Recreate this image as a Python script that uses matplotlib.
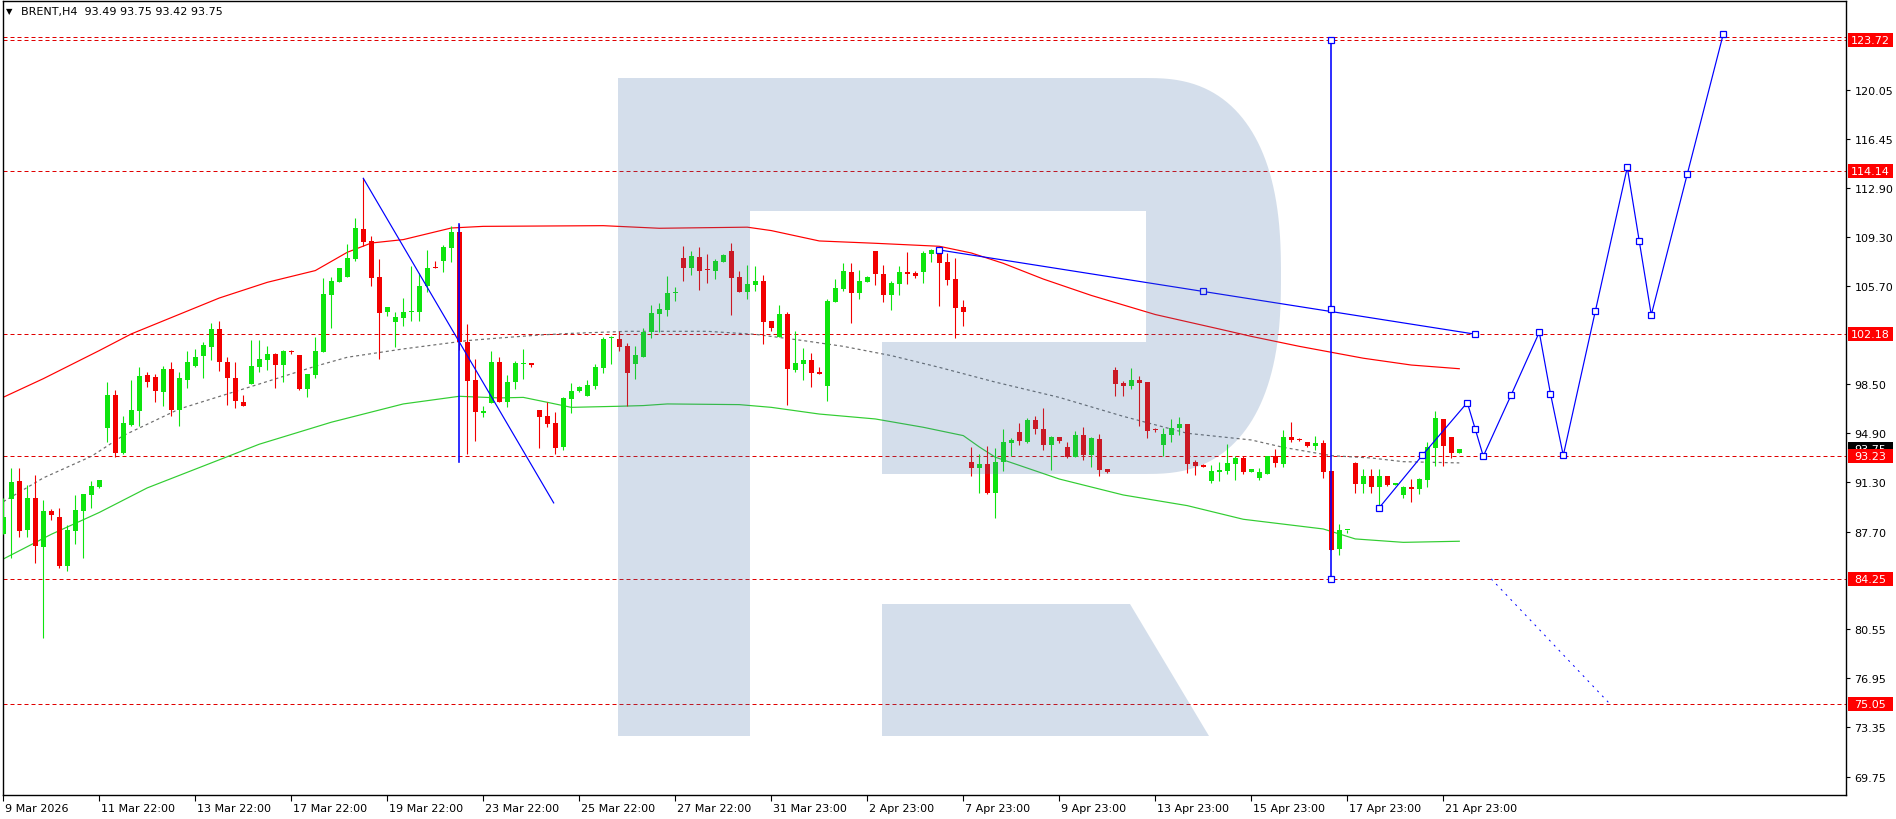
import numpy as np
import matplotlib
matplotlib.use("Agg")
import matplotlib.pyplot as plt
import matplotlib.transforms as mtransforms
from matplotlib.patches import Rectangle, Polygon

# ---------------- data ----------------
opens = [87.55, 90.09, 91.41, 87.84, 90.16, 86.60, 89.19, 88.77, 85.20, 87.77,
         89.23, 90.41, 90.99, 95.31, 97.71, 93.46, 95.51, 96.56, 99.17, 99.05,
         97.95, 99.61, 96.63, 98.83, 99.81, 100.59, 101.25, 102.54, 100.10, 98.93,
         97.17, 98.54, 99.76, 100.30, 100.71, 99.91, 100.88, 100.64, 98.15, 99.17,
         100.88, 105.06, 106.01, 106.33, 107.67, 109.87, 108.99, 106.38, 103.77, 103.03,
         103.32, 103.77, 103.77, 105.67, 107.06, 107.50, 108.48, 109.62, 101.62, 98.81,
         96.39, 97.12, 100.10, 97.22, 98.63, 100.00, 100.03, 96.61, 96.19, 95.66,
         93.90, 97.41, 98.00, 97.66, 98.39, 99.71, 101.86, 101.81, 101.30, 99.98,
         100.51, 102.30, 103.64, 103.96, 105.21, 107.72, 107.03, 107.79, 106.86, 106.82,
         107.43, 108.23, 106.33, 105.28, 105.79, 106.06, 103.13, 101.98, 103.64, 99.56,
         100.00, 100.27, 99.39, 98.34, 104.54, 105.47, 106.72, 105.18, 105.98, 108.26,
         106.57, 105.03, 105.84, 106.72, 106.64, 106.72, 108.04, 108.35, 107.47, 106.20,
         104.15, 92.77, 92.36, 92.63, 90.50, 92.82, 94.21, 94.97, 94.29, 95.85,
         95.21, 94.07, 94.60, 93.90, 93.19, 94.77, 93.31, 94.48, 92.28, 99.54,
         98.58, 98.39, 98.81, 98.66, 95.17, 94.07, 94.80, 95.29, 95.58, 92.77,
         92.58, 91.43, 92.09, 92.16, 92.65, 93.09, 92.09, 91.60, 91.92, 93.21,
         92.65, 94.61, 94.49, 94.26, 94.00, 94.19, 92.14, 86.43, 87.80, 92.73,
         91.19, 91.77, 90.99, 91.77, 91.11, 90.41, 90.94, 90.82, 91.50, 93.82,
         95.95, 94.63, 93.49]
highs = [90.16, 92.36, 92.36, 91.11, 91.82, 90.02, 89.36, 89.43, 88.18, 90.38,
         90.46, 91.41, 91.48, 98.68, 98.10, 96.19, 98.83, 99.76, 99.42, 99.22,
         99.81, 100.15, 99.42, 100.96, 101.08, 101.62, 103.01, 103.10, 100.47, 100.10,
         97.71, 101.74, 101.74, 101.32, 100.79, 101.00, 101.00, 100.64, 99.25, 101.93,
         106.26, 106.33, 107.01, 108.77, 110.67, 113.58, 109.33, 107.67, 104.13, 103.81,
         104.81, 107.13, 106.65, 108.36, 107.55, 108.70, 110.06, 110.20, 102.91, 100.35,
         96.93, 100.96, 100.49, 99.17, 100.20, 101.08, 100.03, 96.61, 97.17, 96.45,
         97.59, 98.59, 98.39, 98.83, 99.98, 101.93, 102.05, 102.39, 101.52, 101.32,
         102.64, 104.30, 104.45, 106.40, 105.59, 108.60, 108.23, 108.52, 108.04, 107.67,
         108.06, 108.84, 106.77, 107.23, 107.13, 106.50, 103.13, 104.30, 103.76, 102.39,
         101.15, 100.76, 99.76, 104.74, 106.20, 107.38, 107.38, 106.86, 106.40, 108.26,
         107.23, 106.06, 107.16, 108.21, 106.77, 108.26, 108.43, 108.45, 108.11, 107.74,
         104.67, 93.87, 93.38, 93.95, 93.82, 95.21, 94.53, 95.63, 95.99, 96.14,
         96.73, 94.68, 94.60, 94.26, 95.07, 95.36, 94.63, 94.82, 92.28, 99.78,
         98.76, 99.68, 99.10, 98.66, 95.31, 95.29, 95.95, 96.09, 95.58, 92.92,
         92.65, 92.58, 92.82, 94.12, 93.26, 93.26, 92.29, 92.34, 93.21, 93.75,
         95.14, 95.75, 94.53, 94.26, 94.68, 94.41, 92.14, 88.23, 87.84, 92.82,
         92.29, 92.29, 92.29, 91.77, 91.26, 91.07, 91.55, 91.60, 94.29, 96.51,
         95.95, 94.63, 93.75]
lows = [87.55, 85.77, 87.33, 87.33, 85.43, 79.88, 88.57, 85.06, 84.84, 86.82,
        85.77, 89.45, 90.87, 94.24, 93.14, 93.39, 95.46, 95.46, 98.32, 97.17,
        96.93, 96.15, 95.46, 98.20, 99.74, 98.93, 100.30, 99.49, 97.00, 96.73,
        96.93, 98.54, 99.37, 99.56, 98.25, 98.68, 100.71, 98.10, 97.56, 98.93,
        100.83, 102.62, 105.96, 106.33, 107.55, 108.65, 105.72, 100.35, 103.52, 101.25,
        102.74, 103.15, 103.10, 105.28, 106.99, 106.69, 107.43, 101.00, 93.39, 94.36,
        96.07, 97.12, 97.22, 96.85, 98.15, 98.88, 99.78, 93.80, 95.34, 93.40,
        93.70, 96.36, 97.95, 97.66, 98.15, 99.32, 99.98, 100.96, 96.88, 98.88,
        100.51, 101.91, 102.35, 103.52, 104.62, 106.08, 106.52, 105.42, 105.89, 106.20,
        107.43, 103.59, 105.23, 104.74, 105.35, 101.47, 102.42, 101.98, 96.99, 99.42,
        98.83, 98.32, 99.27, 97.29, 104.50, 105.35, 102.96, 104.74, 105.96, 105.76,
        104.54, 103.96, 105.03, 105.84, 106.28, 105.91, 107.45, 104.25, 105.76, 101.91,
        102.76, 91.80, 90.53, 90.45, 88.69, 92.16, 93.21, 94.07, 94.16, 94.87,
        93.70, 92.23, 94.21, 93.09, 93.19, 92.97, 92.45, 91.80, 91.99, 97.66,
        97.66, 98.15, 95.46, 94.58, 94.97, 93.21, 94.29, 94.77, 91.99, 91.87,
        92.45, 91.23, 91.43, 91.92, 91.50, 91.92, 92.09, 91.51, 91.92, 92.41,
        92.41, 94.29, 94.36, 93.87, 93.70, 91.65, 86.38, 86.01, 87.60, 90.53,
        90.53, 90.53, 89.43, 91.07, 91.11, 90.16, 89.89, 90.46, 90.94, 92.48,
        92.53, 93.09, 93.42]
closes = [88.79, 91.33, 87.77, 90.16, 86.67, 89.19, 88.94, 85.20, 87.82, 89.28,
          90.46, 91.04, 91.48, 97.71, 93.46, 95.66, 96.61, 99.10, 98.68, 98.03,
          99.61, 96.63, 98.93, 100.10, 100.47, 101.37, 102.54, 100.10, 98.93, 97.24,
          96.93, 99.81, 100.35, 100.71, 99.91, 100.91, 100.83, 98.15, 99.25, 100.95,
          105.11, 106.06, 107.01, 107.72, 109.94, 108.94, 106.30, 103.74, 104.13, 103.43,
          103.77, 103.82, 105.72, 107.01, 106.99, 108.58, 109.67, 101.62, 98.76, 96.44,
          96.56, 100.10, 97.22, 98.63, 100.03, 100.03, 99.90, 96.12, 95.61, 93.80,
          97.49, 98.00, 98.32, 98.46, 99.78, 101.81, 101.88, 101.25, 99.32, 100.64,
          102.30, 103.69, 104.01, 105.18, 105.28, 107.03, 107.87, 106.82, 106.84, 107.50,
          107.96, 106.28, 105.28, 105.81, 106.06, 103.08, 102.64, 103.64, 99.61, 100.05,
          100.27, 99.34, 99.27, 104.59, 105.52, 106.79, 105.18, 106.06, 106.33, 106.60,
          105.03, 105.91, 106.72, 106.60, 106.42, 108.13, 108.33, 107.38, 106.16, 104.08,
          103.79, 92.36, 92.63, 90.53, 92.82, 94.24, 94.41, 94.31, 95.85, 95.21,
          94.07, 94.63, 94.36, 93.19, 94.77, 93.31, 94.55, 92.23, 92.06, 98.51,
          98.39, 98.81, 98.61, 95.09, 95.15, 94.85, 95.29, 95.58, 92.67, 92.53,
          92.45, 92.11, 92.21, 92.72, 93.09, 92.09, 92.29, 92.04, 93.21, 92.70,
          94.61, 94.41, 94.41, 94.00, 94.19, 92.09, 86.38, 87.82, 87.82, 91.19,
          91.77, 90.94, 91.77, 91.11, 91.26, 90.99, 90.82, 91.55, 93.87, 96.00,
          94.00, 93.46, 93.75]

# x-axis labels every 12 bars
date_labels = ["9 Mar 2026", "11 Mar 22:00", "13 Mar 22:00", "17 Mar 22:00", "19 Mar 22:00",
               "23 Mar 22:00", "25 Mar 22:00", "27 Mar 22:00", "31 Mar 23:00", "2 Apr 23:00",
               "7 Apr 23:00", "9 Apr 23:00", "13 Apr 23:00", "15 Apr 23:00", "17 Apr 23:00",
               "21 Apr 23:00"]
price_ticks = [120.05, 116.45, 112.90, 109.30, 105.70, 98.50, 94.90, 91.30, 87.70,
               80.55, 76.95, 73.35, 69.75]

# indicator envelopes (bar index, value)
ma_upper_k = [0, 5, 12, 16, 27, 33, 39, 43, 46, 50, 56, 60, 75, 82, 93, 96, 102, 109,
              117, 121, 125, 130, 136, 144, 152, 156, 162, 170, 176, 182]
ma_upper_v = [97.54, 98.9, 100.96, 102.18, 104.81, 105.96, 106.82, 108.16, 108.84, 109.09,
              109.94, 110.06, 110.11, 109.92, 110.0, 109.75, 108.99, 108.82, 108.6, 108.11,
              107.35, 106.2, 105.0, 103.6, 102.54, 102.0, 101.27, 100.4, 99.9, 99.63]
ma_mid_k = [0, 5, 11, 15, 22, 28, 32, 39, 43, 50, 58, 62, 67, 71, 78, 88, 94, 100, 105,
            111, 117, 124, 132, 140, 148, 156, 160, 166, 171, 175, 182]
ma_mid_v = [89.89, 91.63, 93.21, 94.73, 96.68, 97.78, 98.51, 99.81, 100.47, 101.08,
            101.69, 101.88, 102.10, 102.22, 102.37, 102.37, 102.15, 101.69, 101.27, 100.59,
            99.73, 98.65, 97.53, 96.14, 94.90, 94.41, 93.87, 93.26, 93.09, 92.82, 92.73]
ma_lower_k = [0, 6, 12, 18, 25, 32, 41, 50, 57, 62, 65, 68, 71, 77, 80, 83, 92, 96, 102,
              109, 115, 120, 122, 124, 132, 140, 148, 155, 165, 169, 175, 182]
ma_lower_v = [85.69, 87.5, 89.1, 90.9, 92.5, 94.1, 95.71, 97.05, 97.61, 97.49, 97.53,
              97.17, 96.80, 96.88, 96.93, 97.05, 97.0, 96.8, 96.31, 95.95, 95.34, 94.73,
              93.9, 93.15, 91.55, 90.38, 89.60, 88.6, 87.89, 87.16, 86.91, 86.99]

# horizontal levels
levels = [123.72, 114.14, 102.18, 93.23, 84.25, 75.05]
level_twin = 123.90
last_price = 93.75

# drawn analysis objects
fall_line_k = [45, 68.8]
fall_line_p = [113.58, 89.8]
spike1_k = 57
spike1_p = [92.8, 110.24]
trend_k = [117, 150, 184]
trend_p = [108.33, 105.29, 102.16]
target_k = 166
target_p = [84.25, 104.0, 123.72]
zig_k = [172, 177.4, 183, 184, 185, 188.5, 192, 193.4, 195, 199, 203, 204.5, 206, 210.5, 215]
zig_p = [89.45, 93.3, 97.15, 95.2, 93.22, 97.73, 102.3, 97.8, 93.28, 103.83, 114.38,
         108.97, 103.57, 113.89, 124.15]
alt_k = [186, 200.7]
alt_p = [84.23, 75.15]

# ---------------- figure ----------------
W, H = 1896, 820
fig = plt.figure(figsize=(W / 100, H / 100), dpi=100)
fig.patch.set_facecolor("white")
Lp, Rp, Tp, Bp = 2.5, 1846, 2, 796
ax = fig.add_axes([Lp / W, 1 - Bp / H, (Rp - Lp) / W, (Bp - Tp) / H])
ax.set_facecolor("white")
ax.set_xlim(-0.1, 230.34)
ax.set_ylim(68.40, 126.57)

PX = 0.72  # one pixel in points
GREEN = "#0ee40e"
RED = "#f20000"
BLUE = "#0000ff"

# horizontal dashed levels
for lv in levels + [level_twin]:
    ax.axhline(lv, color="#e00000", lw=PX, ls=(0, (4, 3)), zorder=1)

# envelopes
ax.plot(ma_upper_k, ma_upper_v, color="#ff0000", lw=PX * 1.2, zorder=2)
ax.plot(ma_lower_k, ma_lower_v, color="#32cd32", lw=PX * 1.2, zorder=2)
ax.plot(ma_mid_k, ma_mid_v, color="#6e6e6e", lw=PX * 1.2, ls=(0, (2.5, 2.5)), zorder=2)

# candles
o = np.array(opens); h = np.array(highs); l = np.array(lows); c = np.array(closes)
k = np.arange(len(o))
cols = np.where(c >= o, GREEN, RED)
ax.vlines(k, l, h, colors=cols, lw=PX * 1.1, zorder=3)
bot = np.minimum(o, c)
hgt = np.maximum(np.abs(c - o), 0.075)
ax.bar(k, hgt, bottom=bot, width=0.625, color=cols, linewidth=0, zorder=4)

# analysis lines
mk = dict(marker="s", ms=4, mfc="white", mec=BLUE, mew=0.9)
ax.plot(fall_line_k, fall_line_p, color=BLUE, lw=PX * 1.2, zorder=5)
ax.plot([spike1_k, spike1_k], spike1_p, color=BLUE, lw=PX * 1.6, zorder=5)
ax.plot(trend_k, trend_p, color=BLUE, lw=PX * 1.2, zorder=5)
ax.plot(trend_k, trend_p, ls="none", zorder=6, **mk)
ax.plot([target_k] * 3, target_p, color=BLUE, lw=PX * 1.6, zorder=5)
ax.plot([target_k] * 3, target_p, ls="none", zorder=6, **mk)
ax.plot(zig_k, zig_p, color=BLUE, lw=PX * 1.2, zorder=5)
ax.plot(zig_k, zig_p, ls="none", zorder=6, **mk)
ax.plot(alt_k, alt_p, color=BLUE, lw=PX, ls=(0, (2, 5)), zorder=5)

# watermark logo overlay (decoration, figure pixel space)
def fp(pts):
    return [(x / W, 1 - y / H) for x, y in pts]

cx, cy, rx, ry, n = 1146, 277, 135, 198, 2.5
tt = np.linspace(-np.pi / 2, np.pi / 2, 80)
arc = [(cx + rx * np.abs(np.cos(t)) ** (2 / n), cy + ry * np.sign(np.sin(t)) * np.abs(np.sin(t)) ** (2 / n)) for t in tt]
r_shape = [(618, 79), (1146, 79)] + arc + [(1146, 475), (882, 475), (882, 343), (1146, 343),
                                          (1146, 212), (750, 212), (750, 737), (618, 737)]
leg = [(882, 605), (1130, 605), (1209, 737), (882, 737)]
wm_col = (70 / 255, 114 / 255, 167 / 255)
for shp in (r_shape, leg):
    fig.patches.append(Polygon(fp(shp), closed=True, transform=fig.transFigure,
                               facecolor=wm_col, alpha=0.227, edgecolor="none", zorder=7))

# axes styling
for sp in ax.spines.values():
    sp.set_color("black")
    sp.set_linewidth(1.0)
ax.yaxis.tick_right()
ax.set_yticks(price_ticks)
ax.set_yticklabels([f"{v:.2f}" for v in price_ticks])
ax.tick_params(axis="y", direction="out", length=3, width=0.8, pad=3, labelsize=8, colors="black")
ax.set_xticks(np.arange(len(date_labels)) * 12)
ax.set_xticklabels(date_labels)
ax.tick_params(axis="x", direction="out", length=4, width=0.8, pad=2, labelsize=8, colors="black")
off = mtransforms.ScaledTranslation(2 / 100, 0, fig.dpi_scale_trans)
for lbl in ax.get_xticklabels():
    lbl.set_horizontalalignment("left")
    lbl.set_transform(lbl.get_transform() + off)

# price boxes on the right
bl = mtransforms.blended_transform_factory(fig.transFigure, ax.transData)
ppx = (Bp - Tp) / (126.57 - 68.40)
bh = 14 / ppx
ax.add_patch(Rectangle((1848 / W, last_price - bh / 2), 45 / W, bh, transform=bl,
                       facecolor="black", edgecolor="none", clip_on=False, zorder=10))
ax.text(1870 / W, last_price, f"{last_price:.2f}", transform=bl, ha="center", va="center",
        color="white", fontsize=8, zorder=10.2, clip_on=False)
for lv in levels:
    ax.add_patch(Rectangle((1848 / W, lv - bh / 2), 45 / W, bh, transform=bl,
                           facecolor="#ff0000", edgecolor="none", clip_on=False, zorder=11))
    ax.text(1870 / W, lv, f"{lv:.2f}", transform=bl, ha="center", va="center",
            color="white", fontsize=8, zorder=11.2, clip_on=False)

# header
fig.text(6 / W, 1 - 12 / H, "\u25BC", fontsize=6, va="center", ha="left", color="black")
fig.text(21 / W, 1 - 12 / H, "BRENT,H4  93.49 93.75 93.42 93.75", fontsize=8,
         va="center", ha="left", color="black")

fig.savefig("out.png", dpi=100, facecolor="white")
